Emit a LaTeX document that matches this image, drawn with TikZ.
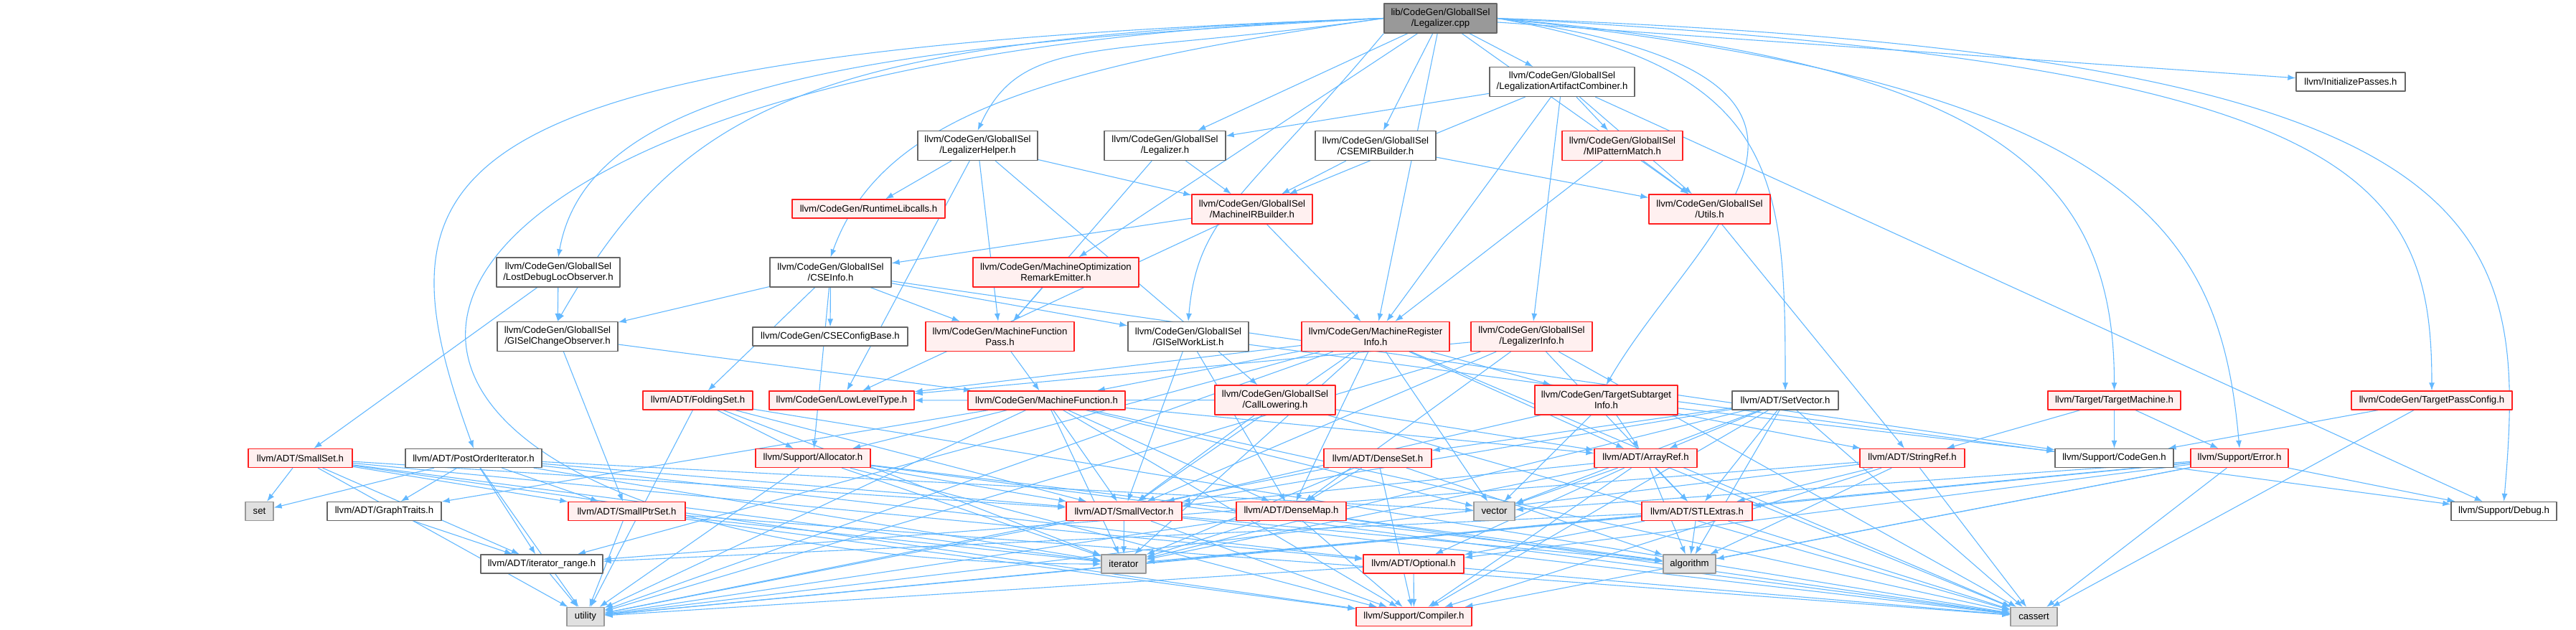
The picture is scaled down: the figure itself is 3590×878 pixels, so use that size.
\documentclass[tikz,border=0pt]{standalone}
\usepackage{fontspec}
\setsansfont{Liberation Sans}
\usepackage{tikz}
\usetikzlibrary{arrows.meta,backgrounds}
\definecolor{dgEdge}{HTML}{63B8FF}
\definecolor{dgLine}{HTML}{666666}
\definecolor{dgRed}{HTML}{FF2020}
\definecolor{dgRedFill}{HTML}{FFF0F0}
\definecolor{dgSysLine}{HTML}{999999}
\definecolor{dgSysFill}{HTML}{E0E0E0}
\definecolor{dgRoot}{HTML}{999999}
\tikzset{
  dg diagram/.style={font=\sffamily\fontsize{13.2}{15}\selectfont,
    line join=round},
  dg box/.style={draw=dgLine, fill=white, line width=1.3pt,
    align=center, inner sep=1pt, minimum height=26pt},
  dg two/.style={minimum height=41pt},
  dg red box/.style={dg box, draw=dgRed, fill=dgRedFill},
  dg sys box/.style={dg box, draw=dgSysLine, fill=dgSysFill},
  dg root box/.style={dg box, fill=dgRoot},
  dg edge/.style={-{Latex[length=11pt,width=8pt]}, draw=dgEdge, line width=1.1pt}
}
\begin{document}
\begin{tikzpicture}[dg diagram,x=1pt,y=-1pt]
\useasboundingbox (0,0) rectangle (3590,878);
% rank 0 and 1
\node[dg root box,dg two,minimum width=157pt] (root) at (2007.5,25.5) {lib/CodeGen/GlobalISel\\/Legalizer.cpp};
\node[dg box,dg two,minimum width=202pt] (lac) at (2177,114) {llvm/CodeGen/GlobalISel\\/LegalizationArtifactCombiner.h};
\node[dg box,minimum width=152pt] (initp) at (3276,114) {llvm/InitializePasses.h};
% GlobalISel headers
\node[dg box,dg two,minimum width=167pt] (leghelp) at (1362.5,203) {llvm/CodeGen/GlobalISel\\/LegalizerHelper.h};
\node[dg box,dg two,minimum width=169pt] (legh) at (1623.5,203) {llvm/CodeGen/GlobalISel\\/Legalizer.h};
\node[dg box,dg two,minimum width=168pt] (csemirb) at (1917,203) {llvm/CodeGen/GlobalISel\\/CSEMIRBuilder.h};
\node[dg red box,dg two,minimum width=168pt] (mipm) at (2261,203) {llvm/CodeGen/GlobalISel\\/MIPatternMatch.h};
\node[dg red box,minimum width=213pt] (rtlib) at (1210.5,291) {llvm/CodeGen/RuntimeLibcalls.h};
\node[dg red box,dg two,minimum width=168pt] (mirb) at (1745,291.5) {llvm/CodeGen/GlobalISel\\/MachineIRBuilder.h};
\node[dg red box,dg two,minimum width=169pt] (utils) at (2382.5,291.5) {llvm/CodeGen/GlobalISel\\/Utils.h};
\node[dg box,dg two,minimum width=172pt] (lostdbg) at (778,379.5) {llvm/CodeGen/GlobalISel\\/LostDebugLocObserver.h};
\node[dg box,dg two,minimum width=169pt] (cseinfo) at (1157.5,379.5) {llvm/CodeGen/GlobalISel\\/CSEInfo.h};
\node[dg red box,dg two,minimum width=231pt] (more) at (1471.5,379.5) {llvm/CodeGen/MachineOptimization\\RemarkEmitter.h};
\node[dg box,dg two,minimum width=168pt] (gchg) at (777,469) {llvm/CodeGen/GlobalISel\\/GISelChangeObserver.h};
\node[dg box,minimum width=216pt] (csecfg) at (1157,469) {llvm/CodeGen/CSEConfigBase.h};
\node[dg red box,dg two,minimum width=207pt] (mfp) at (1393.5,469) {llvm/CodeGen/MachineFunction\\Pass.h};
\node[dg box,dg two,minimum width=168pt] (gwl) at (1656,469) {llvm/CodeGen/GlobalISel\\/GISelWorkList.h};
\node[dg red box,dg two,minimum width=206pt] (mri) at (1917,469) {llvm/CodeGen/MachineRegister\\Info.h};
\node[dg red box,dg two,minimum width=169pt] (leginfo) at (2134.5,469) {llvm/CodeGen/GlobalISel\\/LegalizerInfo.h};
% CodeGen and Target
\node[dg red box,minimum width=153pt] (foldset) at (972.5,558) {llvm/ADT/FoldingSet.h};
\node[dg red box,minimum width=202pt] (llt) at (1173,558) {llvm/CodeGen/LowLevelType.h};
\node[dg red box,minimum width=219pt] (mf) at (1458.5,558) {llvm/CodeGen/MachineFunction.h};
\node[dg red box,dg two,minimum width=168pt] (calllow) at (1777,557.5) {llvm/CodeGen/GlobalISel\\/CallLowering.h};
\node[dg red box,dg two,minimum width=199pt] (tsi) at (2238.5,557.5) {llvm/CodeGen/TargetSubtarget\\Info.h};
\node[dg box,minimum width=148pt] (setvec) at (2488,558) {llvm/ADT/SetVector.h};
\node[dg red box,minimum width=185pt] (tm) at (2946.5,558) {llvm/Target/TargetMachine.h};
\node[dg red box,minimum width=224pt] (tpc) at (3389,558) {llvm/CodeGen/TargetPassConfig.h};
% ADT and Support
\node[dg red box,minimum width=145pt] (smallset) at (418.5,638.5) {llvm/ADT/SmallSet.h};
\node[dg box,minimum width=190pt] (postord) at (660,638.5) {llvm/ADT/PostOrderIterator.h};
\node[dg red box,minimum width=160pt] (alloc) at (1133,638.5) {llvm/Support/Allocator.h};
\node[dg red box,minimum width=150pt] (denseset) at (1920,638.5) {llvm/ADT/DenseSet.h};
\node[dg red box,minimum width=143pt] (arrayref) at (2293.5,638.5) {llvm/ADT/ArrayRef.h};
\node[dg red box,minimum width=146pt] (strref) at (2665,638.5) {llvm/ADT/StringRef.h};
\node[dg box,minimum width=165pt] (cgen) at (2946.5,638.5) {llvm/Support/CodeGen.h};
\node[dg red box,minimum width=136pt] (error) at (3121,638.5) {llvm/Support/Error.h};
\node[dg sys box,minimum width=39pt] (set) at (361.5,712.5) {set};
\node[dg box,minimum width=159pt] (gtraits) at (535.5,712.5) {llvm/ADT/GraphTraits.h};
\node[dg red box,minimum width=163pt] (smallptr) at (873.5,712.5) {llvm/ADT/SmallPtrSet.h};
\node[dg red box,minimum width=161pt] (smallvec) at (1566.5,712.5) {llvm/ADT/SmallVector.h};
\node[dg red box,minimum width=153pt] (densemap) at (1799.5,712.5) {llvm/ADT/DenseMap.h};
\node[dg sys box,minimum width=57pt] (vector) at (2082.5,712.5) {vector};
\node[dg red box,minimum width=154pt] (stlext) at (2365,712.5) {llvm/ADT/STLExtras.h};
\node[dg box,minimum width=147pt] (debug) at (3489.5,712.5) {llvm/Support/Debug.h};
\node[dg box,minimum width=170pt] (itrange) at (755,786) {llvm/ADT/iterator\_range.h};
\node[dg sys box,minimum width=62pt] (iterator) at (1566,786) {iterator};
\node[dg red box,minimum width=140pt] (optional) at (1970,786) {llvm/ADT/Optional.h};
\node[dg sys box,minimum width=73pt] (algorithm) at (2354.5,786) {algorithm};
\node[dg sys box,minimum width=52pt] (utility) at (816,859.5) {utility};
\node[dg red box,minimum width=161pt] (compiler) at (1970.5,859.5) {llvm/Support/Compiler.h};
\node[dg sys box,minimum width=65pt] (cassert) at (2834.5,859.5) {cassert};
% includes
\begin{scope}[on background layer]
\draw[dg edge] (root.west) .. controls +(177:700) and +(280:250) .. (lostdbg.north);
\draw[dg edge] (root.west) .. controls +(178:800) and +(300:350) .. (gchg.north);
\draw[dg edge] (root.west) .. controls +(178:1350) and +(250:420) .. (postord.north);
\draw[dg edge] (root.west) .. controls +(178:1630) and +(180:1240) .. (iterator.west);
\draw[dg edge] (root.west) .. controls +(172:500) and +(290:200) .. (cseinfo.north);
\draw[dg edge] (root.west) .. controls +(172:400) and +(295:150) .. (leghelp.north);
\draw[dg edge] (root.south west) .. controls +(130:300) and +(275:150) .. (gwl.north);
\draw[dg edge] (root.east) .. controls +(10:400) and +(270:300) .. (setvec.north);
\draw[dg edge] (root.east) .. controls +(8:600) and +(300:250) .. (tsi.north);
\draw[dg edge] (root.east) .. controls +(5:700) and +(270:300) .. (tm.north);
\draw[dg edge] (root.east) .. controls +(6:900) and +(265:300) .. (error.north);
\draw[dg edge] (root.east) .. controls +(3:1200) and +(270:300) .. (tpc.north);
\draw[dg edge] (root.east) .. controls +(2:1400) and +(275:400) .. (debug.north);
\foreach \a/\b in {root/initp,root/lac,root/legh,root/csemirb,root/mri,root/utils,root/more,
  lac/legh,lac/mirb,lac/mipm,lac/utils,lac/leginfo,lac/mri,lac/debug,
  leghelp/rtlib,leghelp/mirb,leghelp/mfp,leghelp/calllow,leghelp/llt,
  legh/mirb,legh/mfp,csemirb/mirb,csemirb/utils,mipm/utils,mipm/mri,
  mirb/cseinfo,mirb/mri,mirb/llt,utils/strref,lostdbg/gchg,lostdbg/smallset,
  cseinfo/gchg,cseinfo/foldset,cseinfo/csecfg,cseinfo/mfp,cseinfo/gwl,
  cseinfo/alloc,cseinfo/cgen,more/mfp,gchg/mf,gchg/smallptr,mfp/mf,
  gwl/smallvec,gwl/densemap,gwl/debug,
  mri/llt,mri/mf,mri/tsi,mri/arrayref,mri/vector,mri/itrange,mri/iterator,
  mri/utility,mri/cassert,mri/smallvec,mri/densemap,
  leginfo/smallvec,leginfo/densemap,leginfo/stlext,leginfo/llt,
  leginfo/cassert,leginfo/utility,
  foldset/alloc,foldset/smallvec,foldset/iterator,foldset/cassert,foldset/utility,
  mf/gtraits,mf/alloc,mf/smallvec,mf/densemap,mf/arrayref,mf/compiler,
  mf/cassert,mf/utility,mf/vector,mf/iterator,
  calllow/arrayref,calllow/smallvec,calllow/llt,calllow/cassert,
  tsi/arrayref,tsi/smallvec,tsi/strref,tsi/cgen,tsi/vector,
  setvec/arrayref,setvec/denseset,setvec/stlext,setvec/smallvec,
  setvec/compiler,setvec/cassert,setvec/iterator,setvec/vector,setvec/algorithm,
  tm/strref,tm/cgen,tm/error,tpc/cgen,tpc/cassert,
  smallset/set,smallset/smallptr,smallset/smallvec,smallset/iterator,
  smallset/compiler,smallset/utility,smallset/itrange,smallset/optional,
  postord/set,postord/gtraits,postord/smallptr,postord/itrange,
  postord/smallvec,postord/optional,postord/utility,postord/iterator,postord/vector,
  gtraits/itrange,smallptr/compiler,smallptr/cassert,smallptr/iterator,
  smallptr/utility,itrange/utility,
  alloc/smallvec,alloc/compiler,alloc/algorithm,alloc/cassert,alloc/iterator,alloc/utility,
  denseset/densemap,denseset/compiler,denseset/algorithm,denseset/iterator,denseset/utility,
  arrayref/smallvec,arrayref/stlext,arrayref/vector,arrayref/algorithm,
  arrayref/compiler,arrayref/iterator,arrayref/cassert,arrayref/optional,
  strref/stlext,strref/itrange,strref/compiler,strref/algorithm,strref/cassert,strref/utility,
  error/debug,error/compiler,error/algorithm,error/cassert,error/utility,
  error/vector,error/optional,error/stlext,
  smallvec/iterator,smallvec/compiler,smallvec/algorithm,smallvec/cassert,smallvec/utility,
  densemap/compiler,densemap/algorithm,densemap/cassert,densemap/iterator,densemap/utility,
  stlext/algorithm,stlext/itrange,stlext/cassert,stlext/utility,stlext/iterator,stlext/optional,
  optional/compiler,optional/cassert,optional/utility}
  \draw[dg edge] (\a) -- (\b);
\end{scope}
\end{tikzpicture}
\end{document}
